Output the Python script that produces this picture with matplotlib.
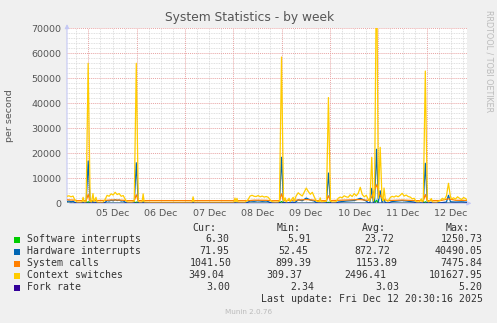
import numpy as np
import matplotlib.pyplot as plt
from matplotlib.patches import Rectangle

# --- data (hours since 05 Dec 00:00, value per second) ---
ctx = [(-10.6, 2800), (-9.6, 3000), (-8.6, 2600), (-7.6, 2900), (-6.6, 1200), (-5.6, 450),
       (-4.1, 400), (-3.1, 500), (-2.6, 2400), (-2.1, 500), (-1.1, 600),
       (-0.1, 56000), (0.9, 700), (1.6, 450), (2.3, 3900), (2.8, 600), (3.8, 2400), (4.3, 450),
       (5.8, 400), (7.3, 420), (8.3, 1500), (9.3, 3200), (10.3, 2800), (11.3, 3800), (12.3, 3300),
       (13.3, 4400), (14.3, 3500), (15.3, 3900), (16.3, 2800), (17.3, 3100), (18.3, 1600),
       (19.3, 500), (21.3, 420), (22.8, 700), (23.8, 56000), (24.8, 800), (25.5, 450),
       (26.7, 500), (27.2, 3800), (27.7, 500), (30.6, 380), (35.6, 360), (40.6, 370), (45.5, 360),
       (51.5, 400), (52.0, 2600), (52.5, 420), (58.0, 370), (63.0, 360), (68.0, 380), (72.3, 400),
       (72.8, 2100), (73.3, 500), (73.8, 2000), (74.3, 450), (77.8, 420), (79.3, 1500), (80.3, 2900),
       (81.3, 3200), (82.3, 2800), (83.3, 2700), (84.3, 3100), (85.3, 2600), (86.3, 2900),
       (87.3, 2500), (88.3, 2700), (89.3, 2400), (90.2, 1500), (91.2, 600), (92.7, 450), (94.2, 500),
       (94.9, 900), (95.9, 58500), (96.9, 900), (97.7, 2200), (98.2, 500), (99.7, 2000), (100.2, 600),
       (101.7, 2400), (102.2, 800), (103.2, 3000), (104.2, 4200), (105.2, 3500), (106.2, 2900),
       (107.2, 4500), (108.2, 6100), (109.2, 4700), (110.2, 3600), (111.2, 4400), (112.2, 2500),
       (113.2, 900), (114.6, 600), (115.1, 2200), (115.6, 500), (118.2, 800), (119.2, 42300),
       (120.2, 900), (121.0, 500), (123.0, 600), (124.0, 2000), (125.0, 2500), (126.0, 2200),
       (127.0, 3000), (128.0, 2600), (129.0, 2400), (130.0, 3400), (131.0, 2700), (132.0, 3900),
       (133.0, 3000), (134.0, 4000), (135.0, 6400), (136.0, 3500), (137.0, 2600), (138.0, 3200),
       (139.0, 1500), (139.8, 900), (140.7, 18400), (141.5, 900), (142.1, 3000),
       (143.1, 101600), (144.0, 2000), (144.9, 22400), (145.8, 2000), (146.3, 1000), (146.8, 6100),
       (147.5, 1200), (148.8, 800), (149.8, 2200), (150.8, 2800), (151.8, 2500), (152.8, 3000),
       (153.8, 2600), (154.8, 3200), (155.8, 4000), (156.8, 2900), (157.8, 3300), (158.8, 2700),
       (159.8, 2500), (160.8, 1800), (161.8, 2000), (162.8, 600), (164.3, 500), (165.3, 1800),
       (165.8, 500), (166.3, 900), (167.3, 52900), (168.3, 900), (169.0, 500), (170.3, 1900),
       (170.8, 500), (172.8, 400), (174.8, 1200), (175.8, 2000), (176.8, 1500), (177.8, 3000),
       (178.8, 8000), (179.8, 2500), (180.5, 1800), (181.3, 2200), (182.3, 1700),
       (183.3, 2600), (184.3, 2000), (185.3, 1500), (186.3, 2300), (187.3, 1900), (188.3, 1200)]

hw = [(-10.6, 700), (-9.6, 900), (-8.6, 600), (-7.6, 800), (-6.6, 300), (-5.6, 80), (-2.6, 400),
      (-2.1, 80), (-1.1, 90), (-0.1, 16900), (0.9, 120), (1.6, 70), (2.3, 800), (2.8, 80),
      (3.8, 500), (4.3, 70), (8.3, 300), (9.3, 1100), (10.3, 900), (11.3, 1200), (12.3, 1000),
      (13.3, 1400), (14.3, 1100), (15.3, 1300), (16.3, 900), (17.3, 1000), (18.3, 400), (19.3, 80),
      (22.8, 90), (23.8, 16200), (24.8, 120), (26.7, 70), (27.2, 600), (27.7, 70), (51.5, 60),
      (52.0, 400), (52.5, 60), (72.3, 60), (72.8, 300), (73.3, 60), (78.3, 70), (79.3, 500),
      (80.3, 900), (82.3, 800), (84.3, 1000), (86.3, 800), (88.3, 900), (89.3, 700), (90.2, 300),
      (91.2, 80), (94.9, 100), (95.9, 18400), (96.9, 100), (97.7, 400), (98.2, 80), (101.7, 500),
      (102.2, 100), (103.2, 700), (104.2, 1400), (106.2, 1000), (108.2, 2100), (110.2, 1300),
      (112.2, 900), (113.2, 200), (114.6, 80), (118.2, 100), (119.2, 12100), (120.2, 100),
      (123.0, 80), (124.0, 500), (128.0, 900), (132.0, 1100), (135.0, 2000), (138.0, 900),
      (139.0, 200), (139.8, 300), (140.7, 6000), (141.5, 300), (142.1, 800), (143.1, 21600),
      (144.0, 500), (144.9, 5000), (145.8, 400), (146.8, 1500), (147.5, 200), (148.8, 100),
      (150.8, 700), (155.8, 1100), (158.8, 800), (161.8, 500), (162.8, 100), (166.3, 100),
      (167.3, 16000), (168.3, 100), (170.3, 400), (170.8, 80), (174.8, 200), (177.8, 500),
      (178.8, 3200), (179.8, 600), (182.3, 500), (185.3, 600), (188.3, 400)]

sc = [(-10.6, 1400), (-6.6, 1250), (-5.6, 1050), (-1.1, 1080), (-0.1, 3500), (0.9, 1100),
      (8.3, 1150), (11.3, 1350), (15.3, 1300), (18.3, 1150), (19.3, 1050), (22.8, 1060),
      (23.8, 3400), (24.8, 1080), (79.3, 1050), (82.3, 1250), (88.3, 1200), (91.2, 1050),
      (94.9, 1060), (95.9, 3800), (96.9, 1080), (103.2, 1250), (108.2, 1500), (112.2, 1250),
      (114.0, 1050), (118.2, 1060), (119.2, 3000), (120.2, 1080), (124.0, 1200), (135.0, 1500),
      (139.0, 1150), (140.7, 2500), (143.1, 7400), (144.9, 3000), (146.8, 1500), (148.8, 1100),
      (155.8, 1300), (162.8, 1060), (166.3, 1060), (167.3, 3500), (168.3, 1080), (175.0, 1100),
      (178.8, 1800), (182.3, 1200), (188.3, 1150)]

sw = [(-10.6, 20), (-1.1, 8), (-0.1, 600), (0.9, 8), (22.8, 7), (23.8, 500), (24.8, 7),
      (94.9, 7), (95.9, 700), (96.9, 7), (118.2, 7), (119.2, 400), (120.2, 7), (142.1, 10),
      (143.1, 1250), (144.0, 10), (166.3, 7), (167.3, 600), (168.3, 7), (188.3, 6)]

fork = [(-10.6, 3.2), (40.0, 3.0), (100.0, 3.1), (143.1, 5.2), (188.3, 3.0)]

series_names = ['Software interrupts', 'Hardware interrupts', 'System calls',
                'Context switches', 'Fork rate']
series_colors = ['#00CC00', '#0066B3', '#FF8000', '#FFCC00', '#330099']
cur_vals = ['6.30', '71.95', '1041.50', '349.04', '3.00']
min_vals = ['5.91', '52.45', '899.39', '309.37', '2.34']
avg_vals = ['23.72', '872.72', '1153.89', '2496.41', '3.03']
max_vals = ['1250.73', '40490.05', '7475.84', '101627.95', '5.20']

day_labels = ['05 Dec', '06 Dec', '07 Dec', '08 Dec', '09 Dec', '10 Dec', '11 Dec', '12 Dec']
y_ticks = [0, 10000, 20000, 30000, 40000, 50000, 60000, 70000]

W, H = 497, 323
fx = lambda x: x / W
fy = lambda y: 1 - y / H

fig = plt.figure(figsize=(W / 100, H / 100), dpi=100, facecolor='#F0F0F0')
ax = fig.add_axes([fx(67), fy(203.3), 400 / W, 175 / H])
ax.set_facecolor('#FFFFFF')
xmin, xmax = -10.6, 188.0
ax.set_xlim(xmin, xmax)
ax.set_ylim(0, 70000)

# grid: minor first, then major
grid_minor = '#D5D5D5'
grid_major = '#E8A4A4'
for y in np.arange(2000, 70001, 2000):
    if y % 10000:
        ax.axhline(y, color=grid_minor, lw=0.6, ls=(0, (1, 1)), zorder=1)
for h in np.arange(-6, xmax, 6):
    if h % 24:
        ax.axvline(h, color=grid_minor, lw=0.6, ls=(0, (1, 1)), zorder=1)
for y in y_ticks[1:]:
    ax.axhline(y, color=grid_major, lw=0.7, ls=(0, (1, 1)), zorder=1)
for h in range(0, int(xmax), 24):
    ax.axvline(h, color=grid_major, lw=0.7, ls=(0, (1, 1)), zorder=1)

# series, in munin draw order
for data, c in zip([sw, hw, sc, ctx, fork], series_colors):
    t, v = zip(*data)
    ax.plot(t, v, color=c, lw=0.9, zorder=3)

for s in ax.spines.values():
    s.set_visible(False)
ax.set_xticks([12 + 24 * i for i in range(len(day_labels))])
ax.set_xticklabels(day_labels)
ax.set_yticks(y_ticks)
ax.set_yticklabels([str(v) for v in y_ticks])
ax.tick_params(length=0, labelsize=6.8, colors='#555555', pad=4)

# axes with arrows
axis_col = '#C4C8F4'
ax.annotate('', xy=(0, 1.04), xytext=(0, 0), xycoords='axes fraction',
            arrowprops=dict(arrowstyle='-|>', color=axis_col, lw=0.8, mutation_scale=6),
            annotation_clip=False, zorder=2)
ax.annotate('', xy=(1.018, 0), xytext=(0, 0), xycoords='axes fraction',
            arrowprops=dict(arrowstyle='-|>', color=axis_col, lw=0.8, mutation_scale=6),
            annotation_clip=False, zorder=2)

# titles
fig.text(fx(250), fy(18), 'System Statistics - by week', ha='center', va='center',
         fontsize=8.8, color='#555555')
fig.text(fx(10), fy(116), 'per second', rotation=90, ha='center', va='center',
         fontsize=6.8, color='#555555')
fig.text(fx(489), fy(61), 'RRDTOOL / TOBI OETIKER', rotation=270, ha='center', va='center',
         fontsize=5.8, color='#BBBBBB')

# legend block
mono = dict(family='DejaVu Sans Mono', fontsize=7.1, color='#333333', va='center')
fig.text(fx(216.7), fy(228.3), 'Cur:', ha='right', **mono)
fig.text(fx(300.7), fy(228.3), 'Min:', ha='right', **mono)
fig.text(fx(385.7), fy(228.3), 'Avg:', ha='right', **mono)
fig.text(fx(469.3), fy(228.3), 'Max:', ha='right', **mono)

cur_x = [229.3, 229.3, 231.7, 224.0, 230.0]
min_x = [311.7, 308.3, 311.7, 302.7, 314.3]
avg_x = [394.3, 390.0, 397.3, 386.7, 399.0]
row_y = [239.5, 251.5, 263.5, 275.5, 287.5]
for i, name in enumerate(series_names):
    y = row_y[i]
    fig.add_artist(Rectangle((fx(14), fy(y + 3)), 6 / W, 6 / H, transform=fig.transFigure,
                             facecolor=series_colors[i], edgecolor='none'))
    fig.text(fx(26.7), fy(y), name, ha='left', **mono)
    fig.text(fx(cur_x[i]), fy(y), cur_vals[i], ha='right', **mono)
    fig.text(fx(min_x[i]), fy(y), min_vals[i], ha='right', **mono)
    fig.text(fx(avg_x[i]), fy(y), avg_vals[i], ha='right', **mono)
    fig.text(fx(482.7), fy(y), max_vals[i], ha='right', **mono)

fig.text(fx(483.3), fy(299.5), 'Last update: Fri Dec 12 20:30:16 2025', ha='right', **mono)
fig.text(fx(248.3), fy(312.3), 'Munin 2.0.76', ha='center', va='center',
         fontsize=5.2, color='#BBBBBB')

fig.savefig('out.png', dpi=100, facecolor=fig.get_facecolor())
